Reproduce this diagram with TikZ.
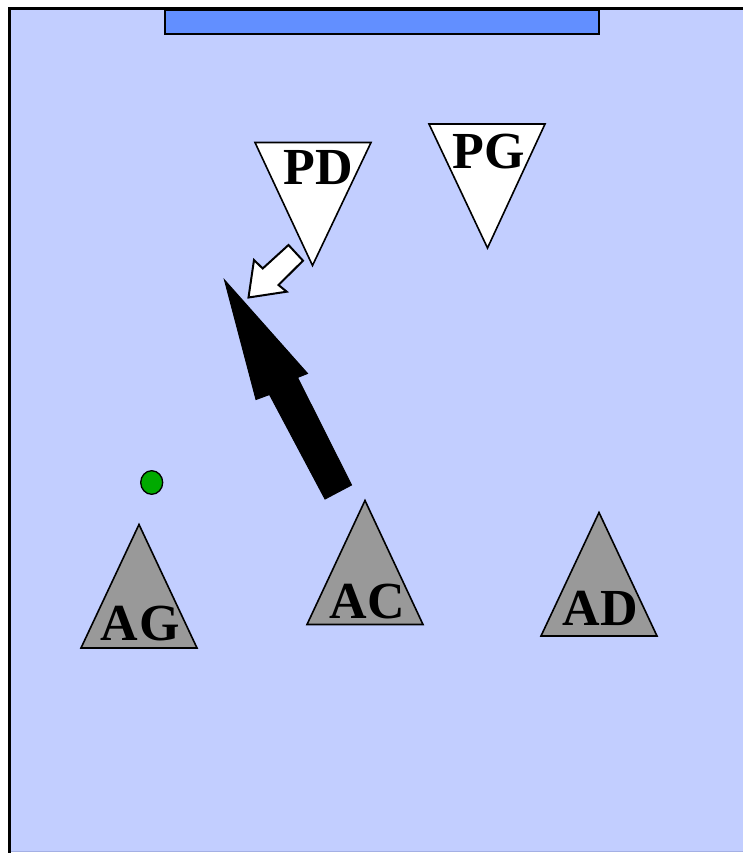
\documentclass[tikz,border=0pt]{standalone}
\usepackage{fontspec}
\setmainfont{Liberation Serif}
\begin{document}
\definecolor{fieldblue}{HTML}{C2CEFF}
\definecolor{fieldedge}{HTML}{A4B0E4}
\definecolor{barblue}{HTML}{628FFF}
\definecolor{playergray}{HTML}{999999}
\definecolor{ballgreen}{HTML}{00AA00}
\begin{tikzpicture}[x=1pt,y=-1pt,
  attacker/.style={fill=playergray,draw=black,line width=1.6pt,line join=miter},
  defender/.style={fill=white,draw=black,line width=1.6pt,line join=miter},
  tag/.style={inner sep=0pt,anchor=base,font=\fontsize{52}{52}\selectfont\bfseries},
  bigarrow/.style={fill=black,draw=black,line width=1pt,line join=miter},
  passarrow/.style={fill=white,draw=black,line width=2pt,line join=miter}]
\useasboundingbox (0,0) rectangle (743,853);
% pitch
\fill[fieldblue] (9,8) rectangle (760,851);
\draw[fieldedge,line width=1pt] (9,851) -- (760,851);
\draw[black,line width=3.5pt] (9.5,853) -- (9.5,8.5) -- (760,8.5);
% goal bar
\draw[fill=barblue,draw=black,line width=1.6pt] (165,10) rectangle (599,34);
% defenders
\path[defender] (255,142.5) -- (371,142.5) -- (312.5,265.5) -- cycle;
\path[defender] (429,124) -- (545,124) -- (487.5,248) -- cycle;
\node[tag] (pd) at (318,185) {PD};
\node[tag] (pg) at (489,168) {PG};
% attackers
\path[attacker] (139,524.5) -- (197,648) -- (81,648) -- cycle;
\path[attacker] (365,500.5) -- (423,624.5) -- (307,624.5) -- cycle;
\path[attacker] (599,512.5) -- (657,636) -- (541,636) -- cycle;
\node[tag] (ag) at (140,640) {A\kern2pt G};
\node[tag] (ac) at (367.5,618) {AC};
\node[tag] (ad) at (600,625) {AD};
% ball
\draw[fill=ballgreen,draw=black,line width=1.3pt] (151.7,482.5) ellipse [x radius=11,y radius=11.8];
% run of the central attacker
\path[bigarrow] (224.5,280) -- (307.5,373.5) -- (297.5,377.5) -- (351.5,485)
  -- (325,499) -- (269.5,394.5) -- (256,399.5) -- cycle;
% pass from the defender
\path[passarrow] (248.5,297.5) -- (254,260) -- (262.7,268.5) -- (288.5,245)
  -- (303,260.7) -- (278.5,285) -- (286.7,291.7) -- cycle;
\end{tikzpicture}
\end{document}
